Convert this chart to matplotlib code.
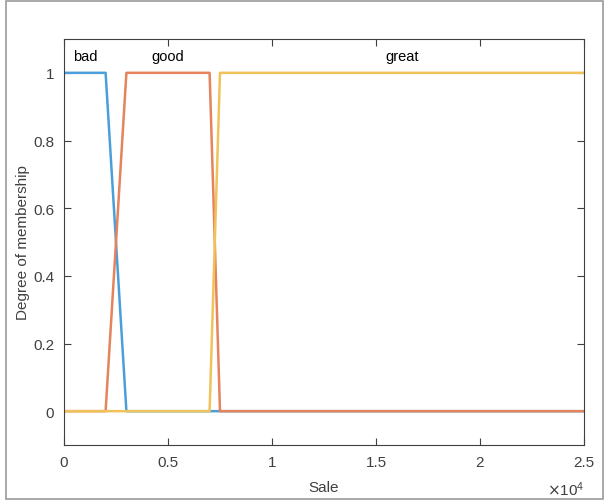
import matplotlib
matplotlib.use("Agg")
import matplotlib.pyplot as plt
from matplotlib.patches import Rectangle
from matplotlib.ticker import FuncFormatter

plt.rcParams['font.family'] = ['Liberation Sans', 'DejaVu Sans']

# Membership functions (trapezoids)
names = ["bad", "good", "great"]
bad_x = [0, 2000, 3000, 25000]
bad_y = [1, 1, 0, 0]
good_x = [0, 2000, 3000, 7000, 7500, 25000]
good_y = [0, 0, 1, 1, 0, 0]
great_x = [0, 7000, 7500, 25000]
great_y = [0, 0, 1, 1]
label_x = [1000, 5000, 16250]
label_y = 1.05

xticks = [0, 5000, 10000, 15000, 20000, 25000]
yticks = [0, 0.2, 0.4, 0.6, 0.8, 1]

colors = ["#4A9FDB", "#E5835C", "#F0C25A"]
tc = "#404040"

fig = plt.figure(figsize=(6.06, 5.02), dpi=100)
fig.patches.append(Rectangle((6/606, 1 - 500/502), 597/606, 498/502,
                             transform=fig.transFigure, fill=False,
                             edgecolor="#9a9a9a", linewidth=1.2))
ax = fig.add_axes([64/606, 56/502, 520/606, 406/502])

ax.plot(bad_x, bad_y, color=colors[0], lw=1.8)
ax.plot(good_x, good_y, color=colors[1], lw=1.8)
ax.plot(great_x, great_y, color=colors[2], lw=1.8)

for n, lx in zip(names, label_x):
    ax.text(lx, label_y, n, ha="center", va="center", fontsize=10.5, color="black")

ax.set_xlim(0, 25000)
ax.set_ylim(-0.1, 1.1)
ax.set_xticks(xticks)
ax.set_yticks(yticks)
ax.xaxis.set_major_formatter(FuncFormatter(lambda v, p: f"{v/1e4:g}"))
ax.yaxis.set_major_formatter(FuncFormatter(lambda v, p: f"{v:g}"))
ax.tick_params(direction="in", top=True, right=True, length=5, width=0.8,
               colors=tc, labelsize=11, labelcolor=tc, pad=7)
for s in ax.spines.values():
    s.set_color(tc)
    s.set_linewidth(0.8)

ax.set_xlabel("Sale", fontsize=11, color=tc, labelpad=8)
ax.set_ylabel("Degree of membership", fontsize=11, color=tc, labelpad=2)
ax.text(1.0, -0.108, r"$\times\mathregular{10^4}$", transform=ax.transAxes,
        ha="right", va="center", fontsize=11, color=tc)

fig.savefig("out.png", dpi=100)
